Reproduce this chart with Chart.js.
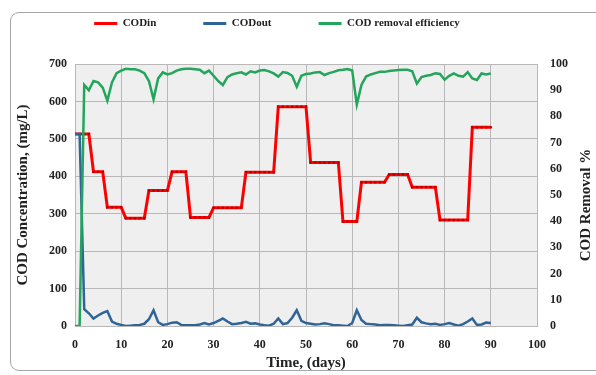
<!DOCTYPE html>
<html>
<head>
<meta charset="utf-8">
<script src="https://cdn.jsdelivr.net/npm/chart.js@4.4.1/dist/chart.umd.min.js"></script>
<style>
  html, body { margin: 0; padding: 0; background: #fff; }
  #wrap { position: relative; width: 596px; height: 375px; overflow: hidden; }
  #frame { position: absolute; left: 10px; top: 12px; width: 620px; height: 357px; border: 1px solid #a6a6a6; border-radius: 9px; }
  #chart { position: absolute; left: 0; top: 0; }
</style>
</head>
<body>
<div id="wrap">
  <div id="frame"></div>
  <canvas id="chart" width="596" height="375"></canvas>
</div>
<script>
// daily readings, day 0 .. day 90
const codIn = [
  513, 513, 513, 513, 412, 412, 412, 317, 317, 317,
  317, 288, 288, 288, 288, 288, 362, 362, 362, 362,
  362, 412, 412, 412, 412, 290, 290, 290, 290, 290,
  316, 316, 316, 316, 316, 316, 316, 411, 411, 411,
  411, 411, 411, 411, 586, 586, 586, 586, 586, 586,
  586, 437, 437, 437, 437, 437, 437, 437, 279, 279,
  279, 279, 384, 384, 384, 384, 384, 384, 405, 405,
  405, 405, 405, 371, 371, 371, 371, 371, 371, 283,
  283, 283, 283, 283, 283, 283, 531, 531, 531, 531,
  531
];
const codOut = [
  513, 513, 45, 34, 20, 28, 35, 40, 12, 6,
  3, 0, 1, 2, 3, 6, 18, 42, 10, 3,
  5, 9, 10, 3, 2, 2, 2, 4, 8, 4,
  8, 14, 20, 12, 5, 6, 8, 11, 6, 7,
  4, 2, 1, 6, 20, 5, 8, 22, 42, 14,
  8, 6, 4, 5, 7, 5, 2, 2, 1, 0,
  8, 42, 16, 6, 5, 4, 2, 3, 3, 2,
  1, 0, 2, 4, 22, 10, 7, 5, 6, 3,
  5, 8, 4, 1, 5, 12, 20, 3, 4, 9,
  8
];
const removal = [
  0, 0, 92, 90, 93.5, 93, 91, 86, 93, 96.5,
  97.5, 98.2, 98, 98, 97.5, 96.5, 93.5, 86.5, 94.5, 96.8,
  96, 96.5, 97.5, 98, 98.2, 98.2, 98, 97.8, 96.5, 97.5,
  95.5, 93.5, 92, 95, 96, 96.5, 96.8, 96, 97.2, 96.8,
  97.5, 97.7, 97.2, 96.4, 95.2, 96.9, 96.6, 95.5, 91.3, 95.5,
  96.2, 96.4, 96.8, 96.9, 95.8, 96.5, 97, 97.6, 97.8, 98.1,
  97.5, 84.5, 92, 95.2, 96, 96.5, 97, 97, 97.3, 97.5,
  97.7, 97.8, 97.8, 97.2, 92.5, 95, 95.5, 95.8, 96.5, 96.2,
  94, 95.5, 96.4, 95.5, 95.2, 96.9, 94.5, 93.9, 96.4, 96,
  96.4
];

const dayTicks = [0, 10, 20, 30, 40, 50, 60, 70, 80, 90, 100];
const concTicks = [0, 100, 200, 300, 400, 500, 600, 700];
const pctTicks = [0, 10, 20, 30, 40, 50, 60, 70, 80, 90, 100];

const serif = '"Liberation Serif", "Times New Roman", serif';
const tickFont = { family: serif, size: 12, weight: 'bold' };
const titleFont = { family: serif, size: 15, weight: 'bold' };
const textColor = '#222';
const gridColor = '#b8b8b8';

function toPoints(values) {
  return values.map((v, day) => ({ x: day, y: v }));
}

function useTicks(list) {
  return scale => { scale.ticks = list.map(v => ({ value: v })); };
}

// grey plot area
const plotBackground = {
  id: 'plotBackground',
  beforeDraw(chart) {
    const { ctx, chartArea: a } = chart;
    ctx.save();
    ctx.fillStyle = '#efefef';
    ctx.fillRect(a.left, a.top, a.right - a.left, a.bottom - a.top);
    ctx.restore();
  }
};

// right axis title reads bottom to top, like the left one
const rightTitle = {
  id: 'rightTitle',
  afterDraw(chart) {
    const ctx = chart.ctx;
    ctx.save();
    ctx.translate(586, 205);
    ctx.rotate(-Math.PI / 2);
    ctx.font = 'bold 15px ' + serif;
    ctx.fillStyle = textColor;
    ctx.textAlign = 'center';
    ctx.textBaseline = 'middle';
    ctx.fillText('COD Removal %', 0, 0);
    ctx.restore();
  }
};

// wide legend spacing without a tall legend box, centred a bit left like the original
const legendBox = {
  id: 'legendBox',
  beforeInit(chart) {
    const fit = chart.legend.fit;
    chart.legend.fit = function () {
      fit.call(this);
      this.height = 93;
    };
  },
  afterLayout(chart) {
    chart.legend.left = 11;
    chart.legend.right = 543;
  }
};

new Chart(document.getElementById('chart'), {
  type: 'line',
  data: {
    datasets: [
      {
        label: 'CODin',
        data: toPoints(codIn),
        yAxisID: 'y',
        borderColor: '#ff0000',
        borderWidth: 3,
        pointStyle: 'rect',
        pointRadius: 1.6,
        pointBackgroundColor: '#b30000',
        pointBorderWidth: 0,
        order: 3
      },
      {
        label: 'CODout',
        data: toPoints(codOut),
        yAxisID: 'y',
        borderColor: '#2f6496',
        borderWidth: 2.5,
        pointRadius: 0,
        order: 2
      },
      {
        label: 'COD removal efficiency',
        data: toPoints(removal),
        yAxisID: 'y1',
        borderColor: '#23a65b',
        borderWidth: 2.5,
        pointRadius: 0,
        order: 1
      }
    ]
  },
  options: {
    responsive: false,
    animation: false,
    devicePixelRatio: 1,
    elements: { line: { tension: 0 } },
    layout: { autoPadding: false, padding: { left: 11, right: 13, top: -29, bottom: 0 } },
    plugins: {
      tooltip: { enabled: false },
      legend: {
        position: 'top',
        labels: {
          font: { family: serif, size: 11, weight: 'bold' },
          color: textColor,
          boxWidth: 23,
          boxHeight: 3,
          padding: 47,
          sort: (a, b) => a.datasetIndex - b.datasetIndex,
          generateLabels(chart) {
            return Chart.defaults.plugins.legend.labels.generateLabels(chart)
              .map(item => ({ ...item, fillStyle: item.strokeStyle, lineWidth: 0 }));
          }
        }
      }
    },
    scales: {
      x: {
        type: 'linear',
        min: 0,
        max: 100,
        afterBuildTicks: useTicks(dayTicks),
        afterFit: s => { s.height = 49; s.paddingLeft = 0; s.paddingRight = 0; },
        grid: { color: gridColor, drawTicks: false },
        border: { color: gridColor },
        ticks: { font: tickFont, color: textColor, padding: 12, maxRotation: 0 },
        title: { display: true, text: 'Time, (days)', font: titleFont, color: textColor, padding: { top: 4, bottom: 3 } }
      },
      y: {
        position: 'left',
        min: 0,
        max: 700,
        afterBuildTicks: useTicks(concTicks),
        afterFit: s => { s.width = 64; },
        grid: { color: gridColor, drawTicks: false },
        border: { color: gridColor },
        ticks: { font: tickFont, color: textColor, padding: 8 },
        title: { display: true, text: 'COD Concentration, (mg/L)', font: titleFont, color: textColor, padding: { top: 3, bottom: 3 } }
      },
      y1: {
        position: 'right',
        min: 0,
        max: 100,
        afterBuildTicks: useTicks(pctTicks),
        afterFit: s => { s.width = 46; },
        grid: { display: false, drawTicks: false },
        border: { display: false },
        ticks: { font: tickFont, color: textColor, padding: 13 }
      }
    }
  },
  plugins: [plotBackground, rightTitle, legendBox]
});
</script>
</body>
</html>
